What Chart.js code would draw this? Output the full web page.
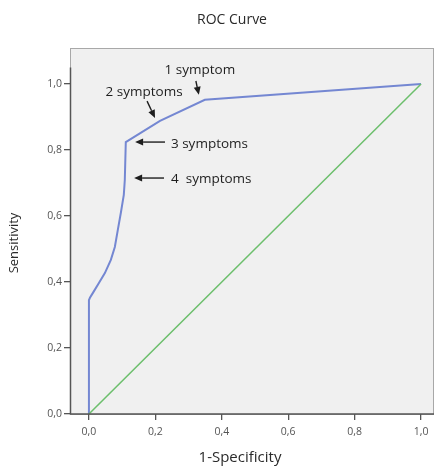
<!DOCTYPE html>
<html>
<head>
<meta charset="utf-8">
<script src="https://cdn.jsdelivr.net/npm/chart.js@4/dist/chart.umd.min.js"></script>
<style>
  body { margin: 0; background: #fff; }
</style>
</head>
<body>
<canvas id="myChart" width="436" height="469"></canvas>
<script>
// ROC curve points (1-Specificity / Sensitivity)
const fpr = [0, 0, 0.003, 0.012, 0.030, 0.048, 0.066, 0.078, 0.087, 0.096, 0.105, 0.108, 0.111, 0.214, 0.349, 1];
const tpr = [0, 0.345, 0.352, 0.367, 0.397, 0.427, 0.467, 0.506, 0.558, 0.609, 0.664, 0.709, 0.824, 0.888, 0.952, 1];
// reference diagonal
const refX = [0, 1];
const refY = [0, 1];
const tickValues = [0, 0.2, 0.4, 0.6, 0.8, 1.0];

// annotation labels: text, text anchor, arrow start, arrow tip (data units)
const noteText = ['1 symptom', '2 symptoms', '3 symptoms', '4  symptoms'];
const noteAlign = ['center', 'center', 'left', 'left'];
const notePos = [[0.334, 1.042], [0.166, 0.976], [0.247, 0.818], [0.247, 0.712]];
const arrowFrom = [[0.322, 1.009], [0.175, 0.948], [0.229, 0.824], [0.226, 0.715]];
const arrowTo = [[0.331, 0.967], [0.199, 0.897], [0.139, 0.824], [0.136, 0.715]];

const FONT = '"Open Sans", "Noto Sans", sans-serif';
const fmt = v => v.toFixed(1).replace('.', ',');

const rocPlugin = {
    id: 'rocDecor',
    beforeDraw(chart) {
        const { ctx, chartArea: a } = chart;
        ctx.save();
        ctx.fillStyle = '#f0f0f0';
        ctx.fillRect(a.left, a.top, a.right - a.left, a.bottom - a.top);
        ctx.strokeStyle = '#a8a8a8';
        ctx.lineWidth = 1;
        ctx.strokeRect(a.left + 0.5, a.top + 0.5, a.right - a.left - 1, a.bottom - a.top);
        ctx.restore();
    },
    afterDraw(chart) {
        const { ctx, chartArea: a } = chart;
        const xs = chart.scales.x, ys = chart.scales.y;
        ctx.save();
        // axis lines
        ctx.strokeStyle = '#555';
        ctx.lineWidth = 1.5;
        ctx.beginPath();
        ctx.moveTo(a.left + 0.5, ys.getPixelForValue(1.05));
        ctx.lineTo(a.left + 0.5, a.bottom);
        ctx.lineTo(a.right, a.bottom);
        ctx.stroke();

        // titles
        ctx.fillStyle = '#2a2a2a';
        ctx.textAlign = 'center';
        ctx.textBaseline = 'middle';
        ctx.font = '14px ' + FONT;
        ctx.fillText('ROC Curve', 232, 20);
        ctx.font = '15px ' + FONT;
        ctx.fillText('1-Specificity', 240, 458);
        ctx.font = '13px ' + FONT;
        ctx.save();
        ctx.translate(14, 243);
        ctx.rotate(-Math.PI / 2);
        ctx.fillText('Sensitivity', 0, 0);
        ctx.restore();

        // annotations with arrows
        ctx.font = '13.5px ' + FONT;
        ctx.fillStyle = '#1e1e1e';
        ctx.strokeStyle = '#1e1e1e';
        ctx.lineWidth = 1.4;
        for (let i = 0; i < noteText.length; i++) {
            ctx.textAlign = noteAlign[i];
            ctx.fillText(noteText[i], xs.getPixelForValue(notePos[i][0]), ys.getPixelForValue(notePos[i][1]));
            const x1 = xs.getPixelForValue(arrowFrom[i][0]), y1 = ys.getPixelForValue(arrowFrom[i][1]);
            const x2 = xs.getPixelForValue(arrowTo[i][0]), y2 = ys.getPixelForValue(arrowTo[i][1]);
            const ang = Math.atan2(y2 - y1, x2 - x1);
            const hl = 8, hw = 3.5;
            const bx = x2 - hl * Math.cos(ang), by = y2 - hl * Math.sin(ang);
            ctx.beginPath();
            ctx.moveTo(x1, y1);
            ctx.lineTo(bx, by);
            ctx.stroke();
            ctx.beginPath();
            ctx.moveTo(x2, y2);
            ctx.lineTo(bx + hw * Math.sin(ang), by - hw * Math.cos(ang));
            ctx.lineTo(bx - hw * Math.sin(ang), by + hw * Math.cos(ang));
            ctx.closePath();
            ctx.fill();
        }
        ctx.restore();
    }
};

const tickOpts = {
    color: '#555',
    font: { size: 10.5, family: FONT },
    callback: v => fmt(v)
};

const ctx = document.getElementById('myChart');
new Chart(ctx, {
    type: 'line',
    data: {
        datasets: [{
            label: 'Diagonal',
            data: refX.map((x, i) => ({ x: x, y: refY[i] })),
            borderColor: '#6cbf6c',
            borderWidth: 1.5,
            pointRadius: 0,
            tension: 0
        }, {
            label: 'ROC',
            data: fpr.map((x, i) => ({ x: x, y: tpr[i] })),
            borderColor: '#7487d2',
            borderWidth: 2,
            pointRadius: 0,
            tension: 0
        }]
    },
    options: {
        responsive: false,
        animation: false,
        layout: { padding: { top: 48, right: 2, left: 0, bottom: 0 } },
        plugins: {
            legend: { display: false },
            tooltip: { enabled: false }
        },
        scales: {
            x: {
                type: 'linear',
                min: -0.057,
                max: 1.039,
                afterBuildTicks: s => { s.ticks = tickValues.map(v => ({ value: v })); },
                afterFit: s => { s.height = 55; },
                ticks: Object.assign({ padding: 6, maxRotation: 0 }, tickOpts),
                grid: { drawOnChartArea: false, tickLength: 6, color: '#555', lineWidth: 1.3 },
                border: { display: false }
            },
            y: {
                type: 'linear',
                min: 0,
                max: 1.109,
                afterBuildTicks: s => { s.ticks = tickValues.map(v => ({ value: v })); },
                afterFit: s => { s.width = 70; },
                ticks: Object.assign({ padding: 2 }, tickOpts),
                grid: { drawOnChartArea: false, tickLength: 6, color: '#555', lineWidth: 1.3 },
                border: { display: false }
            }
        }
    },
    plugins: [rocPlugin]
});
</script>
</body>
</html>
